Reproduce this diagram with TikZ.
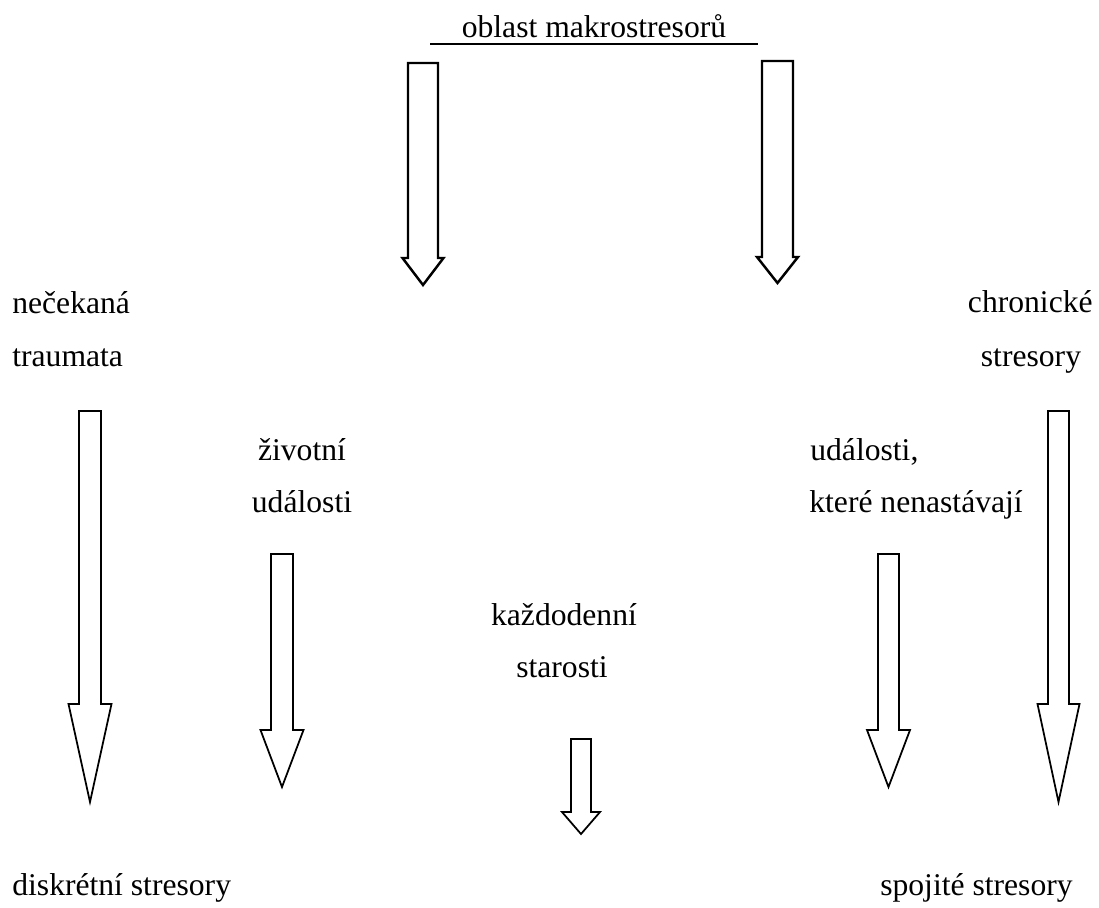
\documentclass[tikz,border=0pt]{standalone}
\usepackage{fontspec}
\setmainfont{Liberation Serif}

% hollow block arrow: [options]{x}{top}{shaft half}{head base}{head half}{tip}
\newcommand{\blockarrow}[7][]{%
  \draw[#1] ({#2-#4},#3) -- ({#2+#4},#3) -- ({#2+#4},#5) -- ({#2+#6},#5)
    -- (#2,#7) -- ({#2-#6},#5) -- ({#2-#4},#5) -- cycle;}

\begin{document}
\begin{tikzpicture}[x=0.02cm, y=-0.02cm,
      every node/.style={font=\fontsize{18}{22}\selectfont, inner sep=0pt},
      bigline/.style={draw=black, line width=1.4pt, line join=miter},
      thinline/.style={draw=black, line width=1pt, line join=miter}]
    \useasboundingbox (0,0) rectangle (1099,907);
    % title and its rule
    \node[anchor=base] (makro) at (594,37) {oblast makrostresorů};
    \coordinate (ruleL) at (430,44);
    \coordinate (ruleR) at (758,44);
    \draw[line width=1.3pt] (ruleL) -- (ruleR);
    % two arrows from the title
    \blockarrow[bigline]{423}{63}{15}{258}{20.5}{285}
    \blockarrow[bigline]{777.5}{61}{15.5}{257}{20.5}{283}
    % side labels
    \node[anchor=base west] (necekana) at (12,313) {nečekaná};
    \node[anchor=base west] (traumata) at (12,366) {traumata};
    \node[anchor=base east] (chronicke) at (1093,312) {chronické};
    \node[anchor=base] (chronstres) at (1031,366) {stresory};
    \node[anchor=base] (zivotni) at (302,460) {životní};
    \node[anchor=base] (udalostiL) at (302,512) {události};
    \node[anchor=base west] (udalostiR) at (810,460) {události,};
    \node[anchor=base west] (ktere) at (809,512) {které nenastávají};
    \node[anchor=base] (kazdodenni) at (564,625) {každodenní};
    \node[anchor=base] (starosti) at (562,677) {starosti};
    % lower arrows
    \blockarrow[thinline]{90}{411}{11}{704}{21.5}{802}
    \blockarrow[thinline]{282}{554}{11}{730}{21.5}{787}
    \blockarrow[thinline]{581}{739}{10}{812}{19}{834}
    \blockarrow[thinline]{888.5}{554}{10.5}{730}{21.5}{787}
    \blockarrow[thinline]{1058.5}{411}{10.5}{704}{21}{802}
    % bottom labels
    \node[anchor=base west] (diskretni) at (12,895) {diskrétní stresory};
    \node[anchor=base east] (spojite) at (1073,895) {spojité stresory};
  \end{tikzpicture}
\end{document}
